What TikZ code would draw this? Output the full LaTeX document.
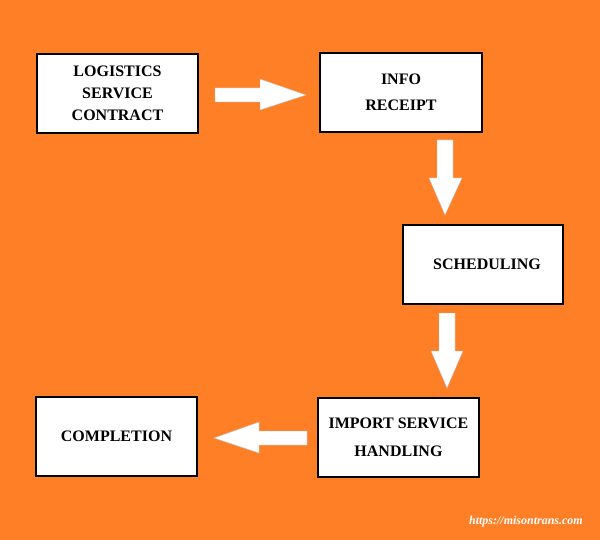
\documentclass[tikz,border=0pt]{standalone}
\usepackage{fontspec}
\setmainfont{Liberation Serif}
\definecolor{bgorange}{RGB}{255,127,39}
\begin{document}
\begin{tikzpicture}[x=1pt,y=-1pt,
  stepbox/.style={draw=black,line width=1.6pt,fill=white,rectangle,minimum height=79pt,align=center,inner sep=0pt,font=\bfseries\fontsize{16}{22}\selectfont},
  blockarrow/.style={fill=white,draw=gray!50,line width=0.4pt}]
\fill[bgorange] (0,0) rectangle (600,540);
\useasboundingbox (0,0) rectangle (600,540);
\node[stepbox,minimum width=161pt] (b1) at (117.5,93.5) {LOGISTICS\\SERVICE\\CONTRACT};
\node[stepbox,minimum width=162pt,font=\bfseries\fontsize{16}{26}\selectfont] (b2) at (401,92.5) {\raisebox{-3pt}{INFO}\\\raisebox{-3pt}{RECEIPT}};
\node[stepbox,minimum width=160pt] (b3) at (483,264.5) {\hspace{8pt}SCHEDULING};
\node[stepbox,minimum width=161pt,font=\bfseries\fontsize{16}{28}\selectfont] (b5) at (398.5,437.5) {IMPORT SERVICE\\HANDLING};
\node[stepbox,minimum width=161pt] (b4) at (116.5,436.5) {COMPLETION};
% block arrows
\draw[blockarrow] (215,88) -- (260,88) -- (260,79) -- (306,95) -- (260,110) -- (260,102) -- (215,102) -- cycle;
\draw[blockarrow] (437,140) -- (453,140) -- (453,178) -- (462,178) -- (445,215) -- (429,178) -- (437,178) -- cycle;
\draw[blockarrow] (439,313) -- (455,313) -- (455,351) -- (463,351) -- (447,388) -- (431,351) -- (439,351) -- cycle;
\draw[blockarrow] (307,431) -- (259,431) -- (259,422) -- (214,438) -- (259,453) -- (259,445) -- (307,445) -- cycle;
\node[anchor=base east,text=white,inner sep=0pt,font=\bfseries\itshape\fontsize{12}{14}\selectfont] (wm) at (583,524) {https://misontrans.com};
\end{tikzpicture}
\end{document}
